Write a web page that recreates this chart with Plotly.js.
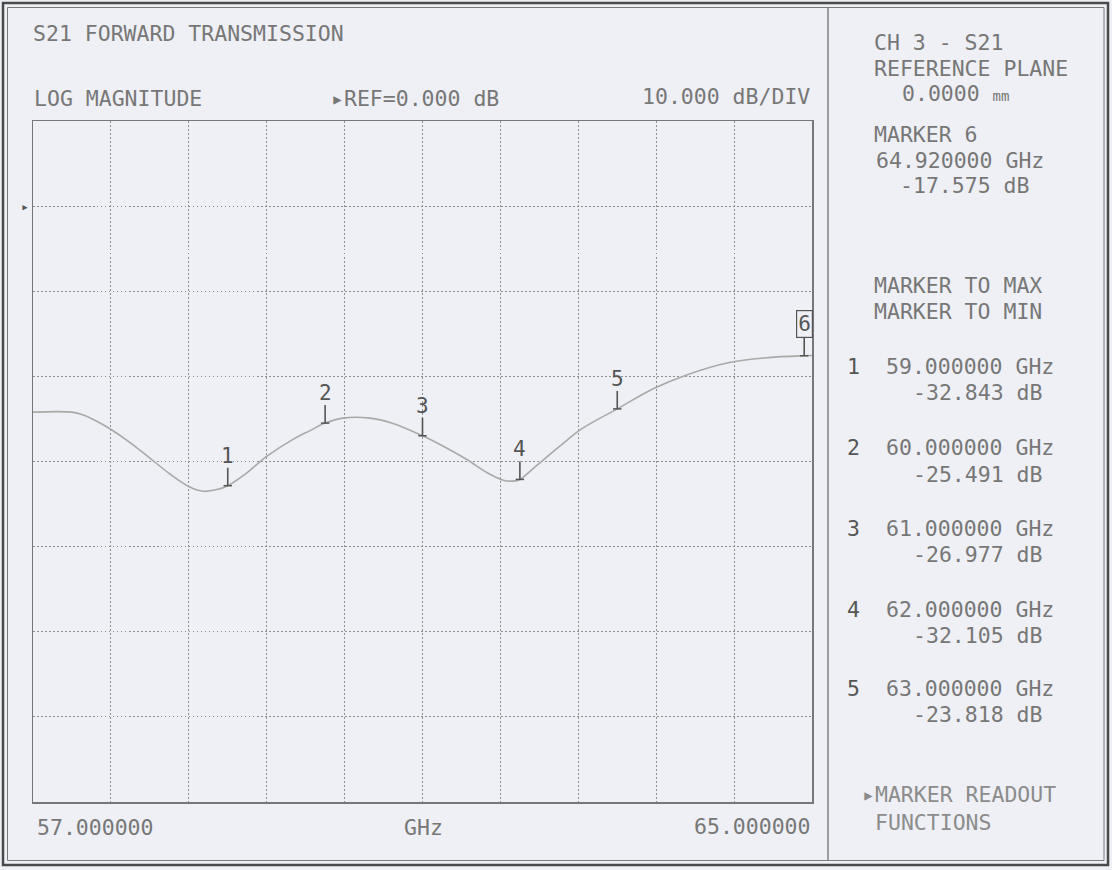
<!DOCTYPE html>
<html>
<head>
<meta charset="utf-8">
<script src="https://cdn.plot.ly/plotly-3.0.1.min.js"></script>
<style>
  html, body { margin: 0; padding: 0; background: #eef0f5; }
  #chart { width: 1112px; height: 870px; }
</style>
</head>
<body>
<div id="chart"></div>
<script>
// ---- data ----
const freqGHz = [57.00, 57.40, 57.51, 57.66, 57.81, 58.00, 58.20, 58.41, 58.61, 58.75, 58.89, 59.00,
                 59.20, 59.40, 59.67, 59.84, 60.00, 60.18, 60.46, 60.69, 61.00, 61.18, 61.46, 61.66,
                 61.83, 61.93, 62.00, 62.18, 62.41, 62.63, 63.00, 63.38, 63.72, 64.14, 64.55, 64.92, 65.00];
const s21dB   = [-24.2, -24.2, -24.5, -25.3, -26.3, -27.8, -29.6, -31.5, -33.0, -33.5, -33.3, -32.843,
                 -31.3, -29.4, -27.4, -26.4, -25.491, -24.9, -24.9, -25.5, -26.977, -28.0, -29.8, -31.3,
                 -32.2, -32.3, -32.105, -30.4, -28.2, -26.2, -23.818, -21.4, -19.8, -18.4, -17.8, -17.575, -17.55];

const markerLabels = ['1', '2', '3', '4', '5', '6'];
const markerFreq   = [59.0, 60.0, 61.0, 62.0, 63.0, 64.92];
const markerDb     = [-32.843, -25.491, -26.977, -32.105, -23.818, -17.575];
const activeMarker = '6';

const startFreq = 57.0, stopFreq = 65.0;
const refLevel = 0.0;      // dB
const scaleDbPerDiv = 10;  // dB/DIV
const xDivs = 10, yDivs = 8;

// ---- layout geometry (pixels) ----
const FIG_W = 1112, FIG_H = 870;
const L = 33, R = 812, T = 121, B = 802;
const W = R - L, H = B - T;
const px = x => (x - L) / W;
const py = y => (B - y) / H;

const FONT = '"DejaVu Sans Mono", "Liberation Mono", monospace';
const FS = 21.5;
const TXT = '#777777';
const DARK = '#555555';

function txt(text, x, y, anchor, extra) {
  return Object.assign({
    text: text, xref: 'paper', yref: 'paper', x: px(x), y: py(y),
    xanchor: anchor || 'left', yanchor: 'middle', showarrow: false, borderpad: 0,
    font: { family: FONT, size: FS, color: TXT }
  }, extra || {});
}

const annotations = [];
// header texts
annotations.push(txt('LOG MAGNITUDE', 33, 99));
annotations.push(txt('\u25B8REF=' + refLevel.toFixed(3) + ' dB', 330, 99));
annotations.push(txt(scaleDbPerDiv.toFixed(3) + ' dB/DIV', 811, 97, 'right'));
// footer texts
annotations.push(txt(startFreq.toFixed(6), 36, 827));
annotations.push(txt('GHz', 424, 827, 'center'));
annotations.push(txt(stopFreq.toFixed(6), 812, 826, 'right'));
// reference level arrow on the left
annotations.push({
  text: '\u25B8', xref: 'paper', yref: 'y', x: px(30), y: refLevel, xanchor: 'right', yanchor: 'middle',
  showarrow: false, borderpad: 0, font: { family: FONT, size: 13, color: DARK }
});

// right panel
const ai = markerLabels.indexOf(activeMarker);
annotations.push(txt('CH 3 - S21', 873, 42.5));
annotations.push(txt('REFERENCE PLANE', 873, 68));
annotations.push(txt('0.0000 <span style="font-size:14px">mm</span>', 901, 93.5));
annotations.push(txt('MARKER ' + activeMarker, 873, 134.5));
annotations.push(txt(markerFreq[ai].toFixed(6) + ' GHz', 875, 160));
annotations.push(txt(markerDb[ai].toFixed(3) + ' dB', 899, 185.5));
annotations.push(txt('MARKER TO MAX', 873, 285.5));
annotations.push(txt('MARKER TO MIN', 873, 311));
const blockY = [366, 448, 528, 609, 688];
for (let i = 0; i < 5; i++) {
  annotations.push(txt(markerLabels[i], 846, blockY[i], 'left', { font: { family: FONT, size: FS, color: DARK } }));
  annotations.push(txt(markerFreq[i].toFixed(6) + ' GHz', 885, blockY[i]));
  annotations.push(txt(markerDb[i].toFixed(3) + ' dB', 912, blockY[i] + 26));
}
annotations.push(txt('\u25B8MARKER READOUT', 861, 794, 'left', { font: { family: FONT, size: FS, color: '#8c8c8c' } }));
annotations.push(txt('FUNCTIONS', 874, 822, 'left', { font: { family: FONT, size: FS, color: '#8c8c8c' } }));

// markers on the trace
for (let i = 0; i < markerLabels.length; i++) {
  const active = markerLabels[i] === activeMarker;
  annotations.push({
    text: markerLabels[i], xref: 'x', yref: 'y', x: markerFreq[i], y: markerDb[i],
    showarrow: true, arrowhead: 0, arrowwidth: 1.6, arrowcolor: DARK, standoff: 0,
    ax: 0, ay: active ? -32 : -30,
    font: { family: FONT, size: 21, color: DARK },
    bordercolor: active ? DARK : 'rgba(0,0,0,0)', borderwidth: active ? 1.2 : 0, borderpad: active ? 1 : 0
  });
}

// frame shapes
const shapes = [
  { type: 'rect', xref: 'paper', yref: 'paper', x0: px(3), x1: px(1108), y0: py(865), y1: py(3),
    line: { color: '#4a4a4a', width: 2.5 } },
  { type: 'rect', xref: 'paper', yref: 'paper', x0: px(7.5), x1: px(1104), y0: py(860.5), y1: py(7.5),
    line: { color: '#7a7a7a', width: 1 } },
  { type: 'line', xref: 'paper', yref: 'paper', x0: px(828), x1: px(828), y0: py(860), y1: py(8),
    line: { color: '#808080', width: 1.5 } }
];

const traces = [
  {
    x: freqGHz, y: s21dB, type: 'scatter', mode: 'lines',
    line: { color: '#a9a9a9', width: 1.6, shape: 'spline', smoothing: 1 },
    hoverinfo: 'skip', showlegend: false
  },
  {
    x: markerFreq, y: markerDb, type: 'scatter', mode: 'markers',
    marker: { symbol: 'line-ew', size: 6, line: { color: DARK, width: 1.5 } },
    hoverinfo: 'skip', showlegend: false
  }
];

const yTop = refLevel + scaleDbPerDiv * 1;
const yBottom = yTop - scaleDbPerDiv * yDivs;

const layout = {
  width: FIG_W, height: FIG_H,
  margin: { l: L, r: FIG_W - R, t: T, b: FIG_H - B, pad: 0 },
  paper_bgcolor: '#eef0f5', plot_bgcolor: '#eef0f5',
  title: {
    text: 'S21 FORWARD TRANSMISSION', xref: 'paper', x: 0, xanchor: 'left',
    yref: 'container', y: 1 - 33 / FIG_H, yanchor: 'middle',
    font: { family: FONT, size: FS, color: TXT }
  },
  xaxis: {
    range: [startFreq, stopFreq], tick0: startFreq, dtick: (stopFreq - startFreq) / xDivs,
    showticklabels: false, ticks: '', zeroline: false, fixedrange: true,
    showgrid: true, gridcolor: '#8e8e8e', gridwidth: 1, griddash: '1.5px,2.5px',
    showline: true, mirror: true, linecolor: '#777', linewidth: 1.5
  },
  yaxis: {
    range: [yBottom, yTop], tick0: refLevel, dtick: scaleDbPerDiv,
    showticklabels: false, ticks: '', zeroline: false, fixedrange: true,
    showgrid: true, gridcolor: '#8e8e8e', gridwidth: 1, griddash: '1.5px,2.5px',
    showline: true, mirror: true, linecolor: '#777', linewidth: 1.5
  },
  annotations: annotations,
  shapes: shapes,
  showlegend: false,
  hovermode: false
};

Plotly.newPlot('chart', traces, layout, { displayModeBar: false, staticPlot: true });
</script>
</body>
</html>
